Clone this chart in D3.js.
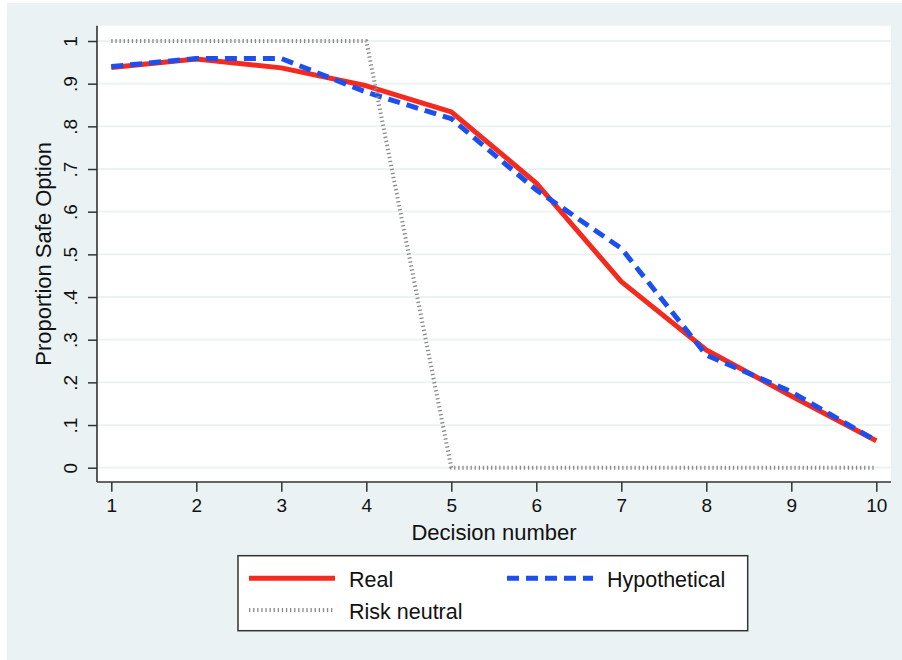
<!DOCTYPE html>
<html>
<head>
<meta charset="utf-8">
<script src="https://cdn.jsdelivr.net/npm/d3@7"></script>
<style>
  body { margin: 0; background: #fff; }
  text { font-family: "Liberation Sans", Arial, Helvetica, sans-serif; fill: #111; }
</style>
</head>
<body>
<div id="chart"></div>
<script>
// chart data
var decisions = [1, 2, 3, 4, 5, 6, 7, 8, 9, 10];
var real = [0.938, 0.958, 0.937, 0.895, 0.834, 0.667, 0.436, 0.276, 0.168, 0.063];
var hypothetical = [0.94, 0.959, 0.959, 0.88, 0.818, 0.651, 0.514, 0.264, 0.178, 0.063];
var riskNeutral = [1, 1, 1, 1, 0, 0, 0, 0, 0, 0];
var yTicks = [0, 0.1, 0.2, 0.3, 0.4, 0.5, 0.6, 0.7, 0.8, 0.9, 1];
var legendLabels = ["Real", "Hypothetical", "Risk neutral"];

var svgWidth = 902, svgHeight = 660;

var svg = d3.select("#chart")
  .append("svg")
  .attr("width", svgWidth)
  .attr("height", svgHeight);

// outer background
svg.append("rect")
  .attr("x", 7).attr("y", 3)
  .attr("width", 895).attr("height", 657)
  .attr("fill", "#eaf2f3");

// plot area
var plot = {left: 97, right: 891, top: 25.7, bottom: 482};
svg.append("rect")
  .attr("x", plot.left).attr("y", plot.top)
  .attr("width", plot.right - plot.left)
  .attr("height", plot.bottom - plot.top)
  .attr("fill", "#fff");

var x = d3.scaleLinear().domain([1, 10]).range([111.3, 876.3]);
var y = d3.scaleLinear().domain([0, 1]).range([467.7, 41]);

// gridlines
svg.append("g").selectAll("line")
  .data(yTicks)
  .enter()
  .append("line")
  .attr("x1", plot.left).attr("x2", plot.right)
  .attr("y1", d => y(d)).attr("y2", d => y(d))
  .attr("stroke", "#eaf2f3")
  .attr("stroke-width", 1.8);

// axes
var fmt = d => d === 0 ? "0" : d === 1 ? "1" : String(d).replace("0.", ".");

var leftAxis = d3.axisLeft(y).tickValues(yTicks).tickFormat(fmt).tickSize(9).tickSizeOuter(0);
var gy = svg.append("g")
  .attr("transform", `translate(${plot.left},0)`)
  .call(leftAxis);
gy.select(".domain").remove();
gy.selectAll(".tick line").attr("stroke", "#333").attr("stroke-width", 1.5);
gy.selectAll(".tick text")
  .attr("x", 0).attr("dy", 0)
  .attr("text-anchor", "middle")
  .attr("transform", "translate(-20,0) rotate(-90)")
  .style("font-size", "19px")
  .style("font-family", "'Liberation Sans', Arial, sans-serif")
  .attr("fill", "#111");

var bottomAxis = d3.axisBottom(x).tickValues(decisions).tickFormat(d3.format("d")).tickSize(9.7).tickSizeOuter(0);
var gx = svg.append("g")
  .attr("transform", `translate(0,${plot.bottom})`)
  .call(bottomAxis);
gx.select(".domain").remove();
gx.selectAll(".tick line").attr("stroke", "#333").attr("stroke-width", 1.5);
gx.selectAll(".tick text")
  .attr("y", 30).attr("dy", 0)
  .style("font-size", "19px")
  .style("font-family", "'Liberation Sans', Arial, sans-serif")
  .attr("fill", "#111");

// axis lines
svg.append("line")
  .attr("x1", plot.left).attr("x2", plot.left)
  .attr("y1", plot.top).attr("y2", plot.bottom)
  .attr("stroke", "#333").attr("stroke-width", 1.6);
svg.append("line")
  .attr("x1", plot.left).attr("x2", plot.right)
  .attr("y1", plot.bottom).attr("y2", plot.bottom)
  .attr("stroke", "#333").attr("stroke-width", 1.6);

// axis titles
svg.append("text")
  .attr("x", (plot.left + plot.right) / 2)
  .attr("y", 540)
  .attr("text-anchor", "middle")
  .style("font-size", "22px")
  .text("Decision number");

svg.append("text")
  .attr("transform", `translate(51, ${(plot.top + plot.bottom) / 2}) rotate(-90)`)
  .attr("text-anchor", "middle")
  .style("font-size", "22px")
  .text("Proportion Safe Option");

// series
var styles = [
  {values: real, color: "#f42a1f", width: 5, dash: null},
  {values: hypothetical, color: "#1c4ff0", width: 5, dash: "12,7"},
  {values: riskNeutral, color: "#8a8a8a", width: 4, dash: "1.3,2.8"}
];

var line = d3.line()
  .x(d => x(d[0]))
  .y(d => y(d[1]));

styles.forEach(function(s) {
  svg.append("path")
    .datum(decisions.map((d, i) => [d, s.values[i]]))
    .attr("d", line)
    .attr("fill", "none")
    .attr("stroke", s.color)
    .attr("stroke-width", s.width)
    .attr("stroke-linejoin", "round")
    .attr("stroke-dasharray", s.dash);
});

// legend
svg.append("rect")
  .attr("x", 238).attr("y", 555.7)
  .attr("width", 509.7).attr("height", 75)
  .attr("fill", "#fff")
  .attr("stroke", "#333")
  .attr("stroke-width", 1.5);

var legendPos = [
  {lx: 249, ly: 578.3, tx: 349, ty: 586.5},
  {lx: 507, ly: 578.3, tx: 607, ty: 586.5},
  {lx: 249, ly: 610, tx: 349, ty: 618.5}
];

legendPos.forEach(function(p, i) {
  svg.append("line")
    .attr("x1", p.lx).attr("x2", p.lx + 86)
    .attr("y1", p.ly).attr("y2", p.ly)
    .attr("stroke", styles[i].color)
    .attr("stroke-width", styles[i].width)
    .attr("stroke-dasharray", styles[i].dash);
  svg.append("text")
    .attr("x", p.tx).attr("y", p.ty)
    .style("font-size", "21.5px")
    .text(legendLabels[i]);
});
</script>
</body>
</html>
